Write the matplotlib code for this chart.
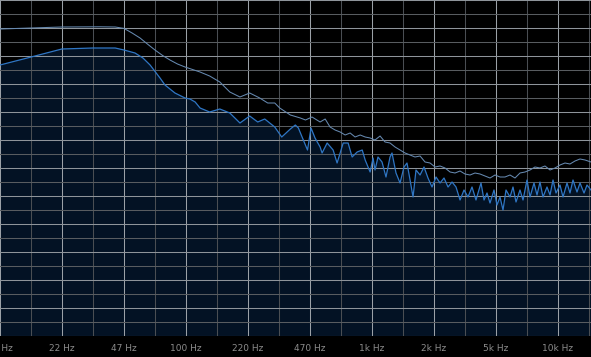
import numpy as np
import matplotlib.pyplot as plt
from matplotlib.ticker import FixedLocator, NullFormatter

# frequency response readings (Hz, dB)
upper_freq = [10, 14.7, 21.5, 34.5, 41.6, 46.4, 51.3, 56.6, 62.0, 68.1, 75.0, 82.0, 90.0, 98.8, 119, 134, 152, 172,
              195, 220, 249, 275, 300, 319, 364, 412, 439, 476, 526, 560, 595, 633, 674, 717,
              763, 811, 864, 919, 977, 1038, 1105, 1175, 1250, 1330, 1415, 1505, 1602, 1703,
              1813, 1928, 2052, 2182, 2322, 2470, 2628, 2795, 2974, 3162, 3365, 3579, 3808,
              4051, 4310, 4585, 4878, 5189, 5521, 5873, 6248, 6647, 7072, 7521, 8001, 8514,
              9058, 9636, 10252, 10904, 11600, 12342, 13131, 13973, 15045]
upper_db = [-7.25, -7.0, -6.75, -6.7, -6.75, -7.1, -8.25, -9.5, -11.0, -12.5, -13.9, -15, -16.0, -16.75, -18, -19, -20.5, -23,
            -24.25, -23.25, -24.5, -25.75, -25.75, -27, -28.75, -29.5, -30, -29.25, -30.5, -29.75, -31.75, -32.5, -33, -33.75,
            -33.25, -34.25, -33.75, -34.25, -34.5, -35, -34, -35.5, -35.75, -36.75, -37.5, -38.25, -38.75, -39.25,
            -39, -40.5, -40.75, -41.75, -41.5, -42, -43, -43.25, -42.75, -43.5, -43.75, -43.25, -43.5,
            -44, -44.5, -43.75, -44.25, -44.25, -43.75, -44.5, -43.25, -43, -42.5, -41.75, -42, -41.5,
            -42.5, -42, -41.25, -40.75, -41, -40.25, -39.75, -40, -40.5]

lower_freq = [10, 14.7, 21.5, 31.6, 41.6, 46.4, 53.2, 58.7, 64.1, 72.5, 77.1, 87.2, 98.8, 105, 112,
              119, 134, 152, 172, 195, 220, 243, 265, 300, 327, 364, 387, 402, 423, 450, 470,
              494, 526, 539, 574, 618, 649, 700, 744, 782, 832, 886, 919, 977, 1013, 1038, 1077,
              1132, 1189, 1250, 1281, 1346, 1415, 1486, 1542, 1602, 1662, 1724, 1813, 1904, 2000,
              2102, 2209, 2322, 2439, 2563, 2693, 2829, 2974, 3124, 3282, 3449, 3623, 3715, 3855,
              4002, 4153, 4310, 4528, 4699, 4878, 5062, 5253, 5521, 5729, 5946, 6248, 6484, 6813,
              7072, 7430, 7712, 8001, 8305, 8727, 9058, 9400, 9755, 10252, 10640, 11180, 11600,
              12040, 12650, 13131, 13800, 14320, 15045]
lower_db = [-16.25, -14.25, -12.25, -12, -12, -12.5, -13.25, -14.5, -16.25, -19.5, -21.25, -23.25, -24.5, -24.75, -25.5,
            -27, -28, -27.25, -28.25, -30.75, -29, -30.5, -29.75, -31.75, -34.25, -32.25, -31.25, -32, -34.5, -37.5, -32,
            -34.5, -36.75, -38.25, -35.75, -37.5, -40.75, -35.75, -35.75, -39.25, -38, -37.5, -40, -43, -39.5, -42.5, -39.25,
            -40.5, -44.25, -39.25, -38.25, -43.25, -45.75, -41.75, -40.75, -45, -49.25, -42.5, -43.75, -41.75, -44.5,
            -46.75, -44.25, -45.75, -44.5, -46.75, -45.5, -46.75, -50, -47.5, -49.25, -46.75, -50, -48.25, -45.75,
            -50, -48.25, -50.75, -47.5, -51.25, -49.25, -52.5, -47.5, -49.25, -46.75, -50.5, -47.5, -50, -45,
            -49.25, -45.75, -48.75, -45.5, -49.25, -46.75, -48.75, -45, -48.25, -46.25, -49.25, -45.75, -48.25,
            -45, -48, -45.75, -48.25, -46.25, -47.5]

tick_freq = [10, 21.54, 46.42, 100, 215.4, 464.2, 1000, 2154, 4642, 10000]
tick_labels = ['10 Hz', '22 Hz', '47 Hz', '100 Hz', '220 Hz', '470 Hz', '1k Hz', '2k Hz', '5k Hz', '10k Hz']

fig = plt.figure(figsize=(5.91, 3.57), dpi=100, facecolor='black')
ax = fig.add_axes([0, 21 / 357, 1, 336 / 357])
ax.set_facecolor('black')

ax.fill_between(lower_freq, lower_db, -84, color='#031224', linewidth=0, zorder=1)
ax.plot(upper_freq, upper_db, color='#6689b0', linewidth=0.75, zorder=3)
ax.plot(lower_freq, lower_db, color='#2f76c4', linewidth=0.9, zorder=3)

ax.set_xscale('log')
ax.set_xlim(10, 15045)
ax.set_ylim(-84, 0)

minor_x = [10 ** (1 + (2 * k + 1) / 6) for k in range(10)]
ax.xaxis.set_major_locator(FixedLocator(tick_freq))
ax.xaxis.set_minor_locator(FixedLocator(minor_x))
ax.set_xticklabels(tick_labels)
ax.xaxis.set_minor_formatter(NullFormatter())
ax.yaxis.set_major_locator(FixedLocator(np.arange(-84, 1, 7)))
ax.yaxis.set_minor_locator(FixedLocator(np.arange(-80.5, 0, 7)))
ax.set_yticklabels([])

ax.grid(which='major', axis='x', color='#9ba1a7', linewidth=0.75, zorder=2)
ax.grid(which='minor', axis='x', color='#4a4e53', linewidth=0.75, zorder=2)
ax.grid(which='major', axis='y', color='#8e949a', linewidth=0.75, zorder=2)
ax.grid(which='minor', axis='y', color='#585c60', linewidth=0.75, zorder=2)
ax.set_axisbelow(False)

ax.tick_params(which='both', length=0)
ax.tick_params(axis='x', colors='#8c8c8c', labelsize=6.5, pad=6)
for s in ax.spines.values():
    s.set_visible(False)

fig.savefig('out.png', dpi=100, facecolor='black')
